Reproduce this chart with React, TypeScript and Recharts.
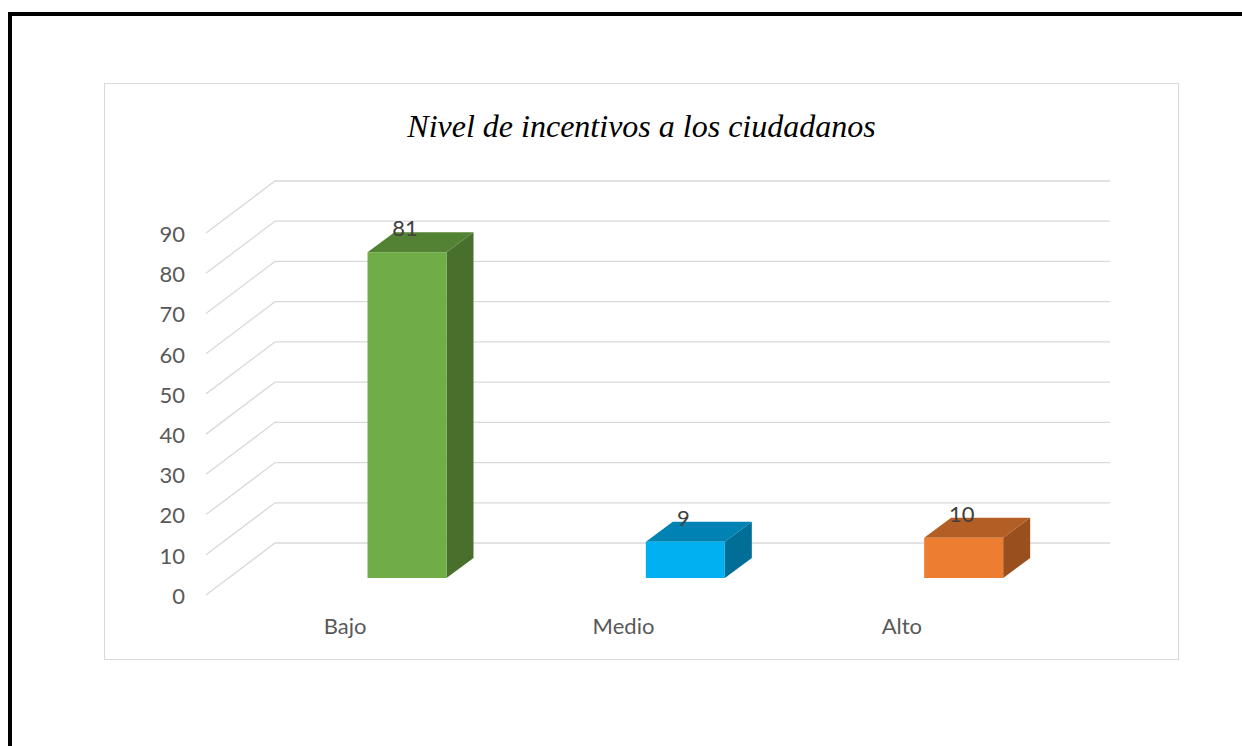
import React from "react"
import { Bar, BarChart, CartesianGrid, Cell, LabelList, XAxis, YAxis } from "recharts"

const categories = ["Bajo", "Medio", "Alto"]
const values = [81, 9, 10]
const yTicks = [0, 10, 20, 30, 40, 50, 60, 70, 80, 90]

const frontColors = ["#70AD47", "#00B0F0", "#ED7D31"]
const topColors = ["#548235", "#0083B4", "#B35E24"]
const sideColors = ["#48702C", "#006E96", "#9A501E"]

const data = categories.map((name, i) => ({ name, value: values[i] }))

// floor perspective: front edge sits left/below the back wall
const FLOOR_DX = 69
const FLOOR_DY = 52
// bar front face relative to its back-wall position
const BAR_DX = -7.5
const BAR_DY = 35
// box depth of each bar
const DEPTH_X = 27
const DEPTH_Y = 20

const tickFont = { fontFamily: "Lato, 'Open Sans', sans-serif", fontSize: 22, fill: "#595959" }

function GridLine(props: any) {
  const { x1, y1, x2, y2 } = props
  return (
    <polyline
      key={props.key}
      points={`${x1 - FLOOR_DX},${y1 + FLOOR_DY} ${x1},${y1} ${x2},${y2}`}
      fill="none"
      stroke="#d9d9d9"
      strokeWidth={1.3}
    />
  )
}

function YTick(props: any) {
  const { x, y, payload } = props
  return (
    <text x={x - FLOOR_DX - 21} y={y + FLOOR_DY + 1} dy="0.36em" textAnchor="end" {...tickFont}>
      {payload.value}
    </text>
  )
}

function XTick(props: any) {
  const { x, y, payload } = props
  return (
    <text x={x - FLOOR_DX} y={y + 83} dy="0.36em" textAnchor="middle" {...tickFont}>
      {payload.value}
    </text>
  )
}

function Bar3D(props: any) {
  const { x, y, width, height, index } = props
  const fx = x + BAR_DX
  const fy = y + BAR_DY
  const w = width
  const h = height
  const top = `${fx},${fy} ${fx + DEPTH_X},${fy - DEPTH_Y} ${fx + w + DEPTH_X},${fy - DEPTH_Y} ${fx + w},${fy}`
  const side = `${fx + w},${fy} ${fx + w + DEPTH_X},${fy - DEPTH_Y} ${fx + w + DEPTH_X},${fy + h - DEPTH_Y} ${fx + w},${fy + h}`
  return (
    <g>
      <polygon points={side} fill={sideColors[index]} />
      <polygon points={top} fill={topColors[index]} />
      <rect x={fx} y={fy} width={w} height={h} fill={frontColors[index]} />
    </g>
  )
}

function ValueLabel(props: any) {
  const { x, y, width, value } = props
  return (
    <text
      x={x + BAR_DX + width / 2 - 2}
      y={y + 11}
      dy="0.36em"
      textAnchor="middle"
      fontFamily="Lato, 'Open Sans', sans-serif"
      fontSize={22}
      fill="#404040"
    >
      {value}
    </text>
  )
}

export default function App() {
  return (
    <div style={{ position: "absolute", left: 0, top: 0, width: 1242, height: 746, overflow: "hidden", background: "#fff" }}>
      <div
        style={{
          position: "absolute",
          left: 8,
          top: 12,
          width: 1400,
          height: 900,
          border: "4px solid #000",
        }}
      />
      <div
        style={{
          position: "absolute",
          left: 104,
          top: 83,
          width: 1073,
          height: 575,
          border: "1.5px solid #d9d9d9",
        }}
      />
      <div
        style={{
          position: "absolute",
          left: 105,
          top: 106,
          width: 1073,
          textAlign: "center",
          fontFamily: "'Liberation Serif', 'Times New Roman', serif",
          fontStyle: "italic",
          fontSize: 32,
          lineHeight: "40px",
          color: "#000",
        }}
      >
        Nivel de incentivos a los ciudadanos
      </div>
      <div style={{ position: "absolute", left: 0, top: 0 }}>
        <BarChart width={1242} height={746} data={data} margin={{ top: 181, right: 132, bottom: 173, left: 175 }}>
          <CartesianGrid vertical={false} horizontal={(p: any) => <GridLine {...p} />} />
          <XAxis dataKey="name" axisLine={false} tickLine={false} tickSize={0} tickMargin={0} height={30} tick={<XTick />} />
          <YAxis
            domain={[0, 90]}
            ticks={yTicks}
            axisLine={false}
            tickLine={false}
            tickSize={0}
            tickMargin={0}
            width={100}
            tick={<YTick />}
          />
          <Bar dataKey="value" barSize={79} shape={<Bar3D />} isAnimationActive={false}>
            {data.map((d, i) => (
              <Cell key={d.name} fill={frontColors[i]} />
            ))}
            <LabelList dataKey="value" content={<ValueLabel />} />
          </Bar>
        </BarChart>
      </div>
    </div>
  )
}
